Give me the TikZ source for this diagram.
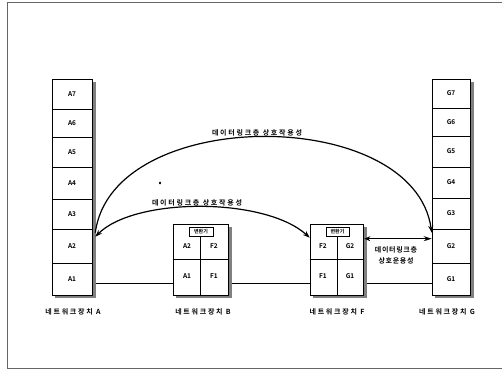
\documentclass[tikz,border=0pt]{standalone}
\usepackage{fontspec}
\newfontfamily\kr{Noto Sans CJK KR Bold}
\newfontfamily\krs{Noto Sans CJK KR Bold}[LetterSpace=25]
\newfontfamily\krw{Noto Sans CJK KR Bold}[LetterSpace=10]
\usetikzlibrary{arrows.meta}
\begin{document}
\begin{tikzpicture}[x=1pt,y=-1pt,
  txt/.style={font=\krs\fontsize{7}{9}\selectfont, inner sep=0pt},
  rtxt/.style={font=\krw\fontsize{7}{11}\selectfont, inner sep=0pt},
  cell/.style={draw, line width=0.6pt, inner sep=0pt, font=\kr\fontsize{6.5}{7}\selectfont},
  shadow/.style={fill=black!50},
  conn/.style={line width=1.2pt},
  tip/.style={-{Stealth[length=7pt,width=5pt]}},
  frame/.style={draw=black!60, line width=0.6pt}]
\useasboundingbox (0,0) rectangle (502,371);
\draw[frame] (502,2) -- (7,2) -- (7,368) -- (502,368);

% shadows
\fill[shadow] (92,82) rectangle (95.5,298);
\fill[shadow] (55,295) rectangle (95.5,298);
\fill[shadow] (470,82) rectangle (473.5,298);
\fill[shadow] (435,295) rectangle (473.5,298);
\fill[shadow] (228,227) rectangle (231.5,298);
\fill[shadow] (176,295) rectangle (231.5,298);
\fill[shadow] (363,227) rectangle (366.5,298);
\fill[shadow] (313,295) rectangle (366.5,298);

% stack A
\foreach \n/\y/\h in {7/94/30, 6/123/28, 5/152/30, 4/183/32, 3/214/30, 2/246/34, 1/279/32}{
  \node[cell, fill=white, minimum width=40pt, minimum height=\h pt] (A\n) at (72,\y) {A\n};
}
% stack G
\foreach \n/\y/\h in {7/93.5/29, 6/122/28, 5/151.5/31, 4/182.5/31, 3/213.5/31, 2/246/34, 1/279/32}{
  \node[cell, fill=white, minimum width=38pt, minimum height=\h pt] (G\n) at (451,\y) {G\n};
}

% device B
\node[draw, fill=white, line width=0.6pt, minimum width=55pt, minimum height=71pt, inner sep=0pt] (Bbox) at (200.5,259.5) {};
\draw[line width=0.6pt] (Bbox.west |- 0,259) -- (Bbox.east |- 0,259);
\draw[line width=0.6pt] (200,236) -- (Bbox.south -| 200,0);
\node[draw, line width=0.6pt, minimum width=24pt, minimum height=9pt, inner sep=0pt, font=\kr\fontsize{5}{6}\selectfont] (Bconv) at (201,231.5) {변환기};
\node[cell, draw=none] (BA2) at (187,246) {A2};
\node[cell, draw=none] (BF2) at (214,246) {F2};
\node[cell, draw=none] (BA1) at (187,276) {A1};
\node[cell, draw=none] (BF1) at (214,276) {F1};

% device F
\node[draw, fill=white, line width=0.6pt, minimum width=53pt, minimum height=71pt, inner sep=0pt] (Fbox) at (336.5,259.5) {};
\draw[line width=0.6pt] (Fbox.west |- 0,259) -- (Fbox.east |- 0,259);
\draw[line width=0.6pt] (337,236) -- (Fbox.south -| 337,0);
\node[draw, line width=0.6pt, minimum width=23pt, minimum height=9pt, inner sep=0pt, font=\kr\fontsize{5}{6}\selectfont] (Fconv) at (337.5,231.5) {변환기};
\node[cell, draw=none] (FF2) at (323,246) {F2};
\node[cell, draw=none] (FG2) at (350,246) {G2};
\node[cell, draw=none] (FF1) at (323,276) {F1};
\node[cell, draw=none] (FG1) at (350,276) {G1};

% base link
\coordinate (base) at (0,283);
\draw[line width=0.9pt] ([xshift=4pt]A1.east |- base) -- (Bbox.west |- base);
\draw[line width=0.9pt] ([xshift=4pt]Bbox.east |- base) -- (Fbox.west |- base);
\draw[line width=0.9pt] ([xshift=4pt]Fbox.east |- base) -- (G1.west |- base);

% arcs
\coordinate (a2big) at ([xshift=3pt,yshift=-4pt]A2.north east);
\coordinate (a2small) at ([xshift=3pt,yshift=-8pt]A2.north east);
\coordinate (g2in) at ([yshift=-4pt]G2.north west);
\coordinate (fin) at ([yshift=-14pt]Fbox.north west);
\draw[conn, tip] (a2big) .. controls (112,105) and (414,105) .. (g2in);
\draw[conn, {Stealth[length=7pt,width=5pt]}-{Stealth[length=7pt,width=5pt]}] (a2small) .. controls (135,197) and (265,197) .. (fin);
\draw[conn, {Stealth[length=6pt,width=5pt]}-{Stealth[length=8pt,width=5pt]}] ([xshift=1pt,yshift=-15pt]Fbox.north east) -- ([yshift=-10pt]G2.north west);

% labels
\node[txt] (t1) at (257,133) {데이터링크층 상호작용성};
\node[txt] (t2) at (197,203) {데이터링크층 상호작용성};
\node[rtxt, align=center] (t3) at (396,255) {데이터링크층\\상호운용성};
\node[txt] (nA) at (73,312) {네트워크장치 A};
\node[txt] (nB) at (203,312) {네트워크장치 B};
\node[txt] (nF) at (337,312) {네트워크장치 F};
\node[txt] (nG) at (447,312) {네트워크장치 G};

% stray mark
\fill (160,183) ellipse (1.2pt and 1.5pt);
\end{tikzpicture}
\end{document}
